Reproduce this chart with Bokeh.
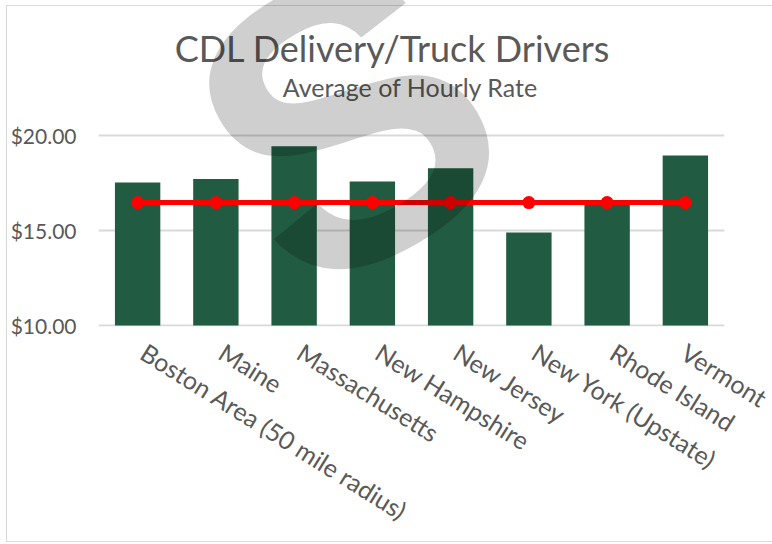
import math
from bokeh.plotting import figure
from bokeh.models import (ColumnDataSource, Range1d, FixedTicker,
                          NumeralTickFormatter, Label, LinearAxis,
                          InlineStyleSheet)
from bokeh.embed import file_html
from bokeh.resources import INLINE

# ---- data ----
categories = ["Boston Area (50 mile radius)", "Maine", "Massachusetts",
              "New Hampshire", "New Jersey", "New York (Upstate)",
              "Rhode Island", "Vermont"]
hourly_rate = [17.53, 17.71, 19.43, 17.58, 18.27, 14.89, 16.40, 18.94]
reference_rate = [16.47, 16.47, 16.47, 16.47, 16.47, 16.47, 16.47, 16.47]
y_ticks = [10, 15, 20]
title_text = "CDL Delivery/Truck Drivers"
subtitle_text = "Average of Hourly Rate"
watermark_text = "S"

BAR_COLOR = "#215B41"
LINE_COLOR = "#FF0000"
TEXT_COLOR = "#595959"
GRID_COLOR = "#D9D9D9"
FONT = "Lato"

n = len(categories)
slot = [i + 0.5 for i in range(n)]          # centre of each category slot
src = ColumnDataSource(dict(x=slot, cat=categories, rate=hourly_rate,
                            ref=reference_rate))

# the frame reaches up to the top of the canvas so the titles sit inside it
p = figure(x_range=Range1d(0, n), y_range=Range1d(9.95, 27.1),
           frame_width=626, frame_height=326,
           min_border_left=98, min_border_right=48,
           min_border_top=0, min_border_bottom=218,
           output_backend="svg", toolbar_location=None)
p.title.visible = False
p.outline_line_color = None
p.background_fill_color = "white"
p.border_fill_color = "white"

p.vbar(x="x", top="rate", bottom=10, width=0.58, source=src,
       fill_color=BAR_COLOR, line_color=None)
p.line(x="x", y="ref", source=src, line_color=LINE_COLOR, line_width=5)
p.scatter(x="x", y="ref", source=src, size=13, fill_color=LINE_COLOR,
          line_color=None)

# y axis
p.yaxis.ticker = FixedTicker(ticks=y_ticks)
p.yaxis.formatter = NumeralTickFormatter(format="$0.00")
p.yaxis.axis_line_color = None
p.yaxis.major_tick_line_color = None
p.yaxis.minor_tick_line_color = None
p.yaxis.major_tick_out = 0
p.yaxis.major_label_standoff = 22
p.yaxis.major_label_text_font = FONT
p.yaxis.major_label_text_font_size = "21px"
p.yaxis.major_label_text_color = TEXT_COLOR

# x axis: category names on a slightly shifted companion range
p.xaxis.visible = False
label_shift = 0.076
p.extra_x_ranges = {"labels": Range1d(-label_shift, n - label_shift)}
xlab = LinearAxis(x_range_name="labels",
                  ticker=FixedTicker(ticks=slot),
                  major_label_overrides={t: c for t, c in zip(slot, categories)})
xlab.axis_line_color = None
xlab.major_tick_line_color = None
xlab.minor_tick_line_color = None
xlab.major_tick_out = 0
xlab.major_label_orientation = -math.radians(32)
xlab.major_label_standoff = 23
xlab.major_label_text_font = FONT
xlab.major_label_text_font_size = "25px"
xlab.major_label_text_color = TEXT_COLOR
p.add_layout(xlab, "below")

p.xgrid.grid_line_color = None
p.ygrid.ticker = FixedTicker(ticks=y_ticks)
p.ygrid.grid_line_color = GRID_COLOR
p.ygrid.grid_line_width = 2

# titles
p.add_layout(Label(x=3.757, y=24.58, text=title_text, text_align="center",
                   text_baseline="alphabetic", text_font=FONT,
                   text_font_size="36px", text_color=TEXT_COLOR))
p.add_layout(Label(x=3.987, y=22.55, text=subtitle_text, text_align="center",
                   text_baseline="alphabetic", text_font=FONT,
                   text_font_size="25px", text_color=TEXT_COLOR))

# chart border and watermark overlay
p.stylesheets = [InlineStyleSheet(css="""
:host { position: relative; overflow: hidden; }
:host::before {
  content: "";
  position: absolute;
  left: 6px;
  top: 5px;
  width: 900px;
  height: 537px;
  border: 1.5px solid #D9D9D9;
  box-sizing: border-box;
  pointer-events: none;
  z-index: 9;
}
:host::after {
  content: "%s";
  position: absolute;
  left: 300px;
  top: -30.6px;
  font-family: 'Liberation Sans', sans-serif;
  font-weight: bold;
  font-size: 400px;
  line-height: 400px;
  color: rgba(0, 0, 0, 0.19);
  white-space: nowrap;
  transform-origin: 0px 338.6px;
  transform: rotate(-30deg);
  pointer-events: none;
  z-index: 10;
}
""" % watermark_text)]

open("out.html", "w").write(file_html(p, INLINE))
